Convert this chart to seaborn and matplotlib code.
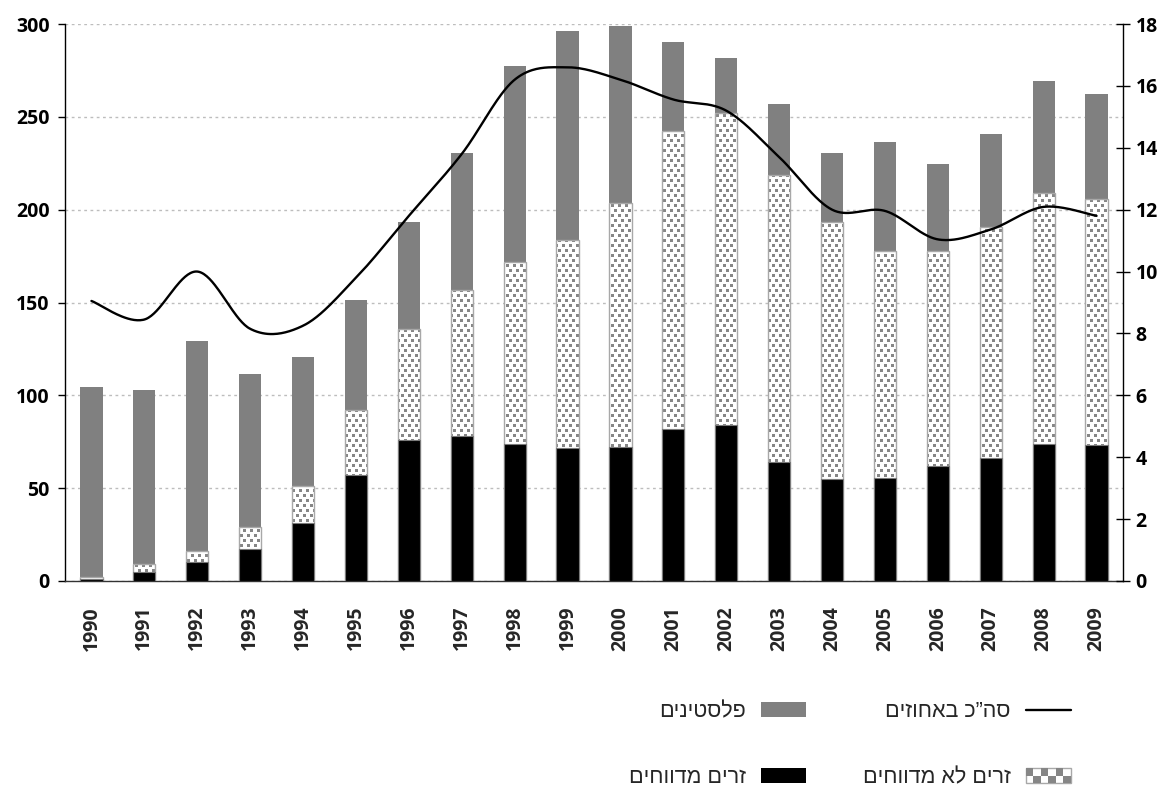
import numpy as np
import pandas as pd
import matplotlib
matplotlib.use("Agg")
import matplotlib.pyplot as plt
from matplotlib.patches import Patch, PathPatch, Rectangle
from matplotlib.lines import Line2D
from matplotlib.path import Path
from matplotlib.legend_handler import HandlerBase
import seaborn as sns

# Workers by year (thousands) and total share (percent, right axis)
years = [str(y) for y in range(1990, 2010)]
reported = [1, 5, 10, 17.5, 31, 57, 76, 78, 74, 71.5,
            72, 82, 84, 64, 55, 55.5, 62, 66, 74, 73.5]
unreported = [1, 4, 6, 11.5, 20, 35, 59.5, 78.5, 98, 112,
              131.5, 160.5, 168, 154.5, 138.5, 122, 116, 124.5, 135, 132.5]
palestinians = [102.5, 94, 113, 82.5, 69.5, 59.5, 58, 74, 105.5, 112.5,
                95.5, 48, 29.5, 38.5, 37, 59, 46.5, 50.5, 60.5, 56.5]
total_pct = [9.05, 8.45, 10.0, 8.15, 8.25, 9.8, 11.8, 13.8, 16.2, 16.6,
             16.2, 15.56, 15.2, 13.7, 12.0, 11.96, 11.04, 11.36, 12.09, 11.8]

lbl_pal = "פלסטינים"
lbl_rep = "זרים מדווחים"
lbl_unrep = "זרים לא מדווחים"
lbl_total = "סה”כ באחוזים"


def rtl(s):
    # matplotlib lays text out left to right; show Hebrew in visual order
    return s[::-1]


sns.set_style("white")
plt.rcParams["font.family"] = ["Open Sans", "DejaVu Sans"]

GRAY = "#808080"
SQ = "#868686"        # dotted texture squares
DOT_EDGE = "#a8a8a8"  # outline of the dotted segments

df = pd.DataFrame({"year": years, "reported": reported,
                   "unreported": unreported, "palestinians": palestinians})
df["top_unrep"] = df["reported"] + df["unreported"]
df["top_all"] = df["top_unrep"] + df["palestinians"]

fig = plt.figure(figsize=(11.68, 7.86), dpi=100)
ax = fig.add_axes([65 / 1168, 1 - 581 / 786, (1123 - 65) / 1168, (581 - 24) / 786])

W = 0.42
sns.barplot(data=df, x="year", y="top_all", color=GRAY, width=W,
            saturation=1, errorbar=None, linewidth=0, ax=ax, zorder=2)
n0 = len(ax.patches)
sns.barplot(data=df, x="year", y="top_unrep", color="white", width=W,
            saturation=1, errorbar=None, edgecolor=DOT_EDGE,
            linewidth=1, ax=ax, zorder=3)
dotted_bars = ax.patches[n0:]
sns.barplot(data=df, x="year", y="reported", color="black", width=W,
            saturation=1, errorbar=None, edgecolor="#7a7a7a",
            linewidth=0.8, ax=ax, zorder=4)

ax.set_xlim(-0.5, len(years) - 0.5)
ax.set_ylim(0, 300)

# Square-dot texture for the unreported segments, clipped to those bars
bb = ax.get_window_extent()
hpx, wpx = int(round(bb.height)), int(round(bb.width))
yy, xx = np.mgrid[0:hpx, 0:wpx]
shift = ((yy // 5) % 2) * 4
mask = (((xx + shift) % 7) < 3) & ((yy % 5) < 3)
tex = np.ones((hpx, wpx, 3))
tex[mask] = np.array(matplotlib.colors.to_rgb(SQ))
clip_path = Path.make_compound_path(
    *[p.get_path().transformed(p.get_patch_transform()) for p in dotted_bars])
clip_patch = PathPatch(clip_path, transform=ax.transData,
                       facecolor="none", edgecolor="none")
im = ax.imshow(tex, extent=(-0.5, len(years) - 0.5, 0, 300), origin="upper",
               aspect="auto", interpolation="nearest", zorder=3.2)
im.set_clip_path(clip_patch)
for p in dotted_bars:
    p.set_facecolor("none")
    p.set_zorder(3.4)
ax.set_xlim(-0.5, len(years) - 0.5)
ax.set_ylim(0, 300)

ax.set_yticks(np.arange(0, 301, 50))
ax.set_xlabel("")
ax.set_ylabel("")
ax.yaxis.grid(True, linestyle=(0, (2, 2.5)), color="#bdbdbd", linewidth=1)
ax.xaxis.grid(False)
ax.set_axisbelow(True)
for s in ["top", "right"]:
    ax.spines[s].set_visible(False)
ax.spines["left"].set_color("black")
ax.spines["left"].set_linewidth(1)
ax.spines["bottom"].set_color("#333333")
ax.spines["bottom"].set_linewidth(1)

tick_font = dict(family=["Open Sans", "DejaVu Sans"], weight="bold", size=14)
ax.tick_params(axis="y", direction="out", length=5, width=1, pad=6,
               left=True, colors="black")
ax.tick_params(axis="x", length=0, pad=18)
ax.set_xticks(range(len(years)))
ax.set_xticklabels(years, rotation=90, **tick_font)
for t in ax.get_yticklabels():
    t.set(**tick_font)

# Right axis: total share in percent, drawn as a smoothed line
ax2 = ax.twinx()
ax2.set_ylim(0, 18)
ax2.set_yticks(np.arange(0, 19, 2))
ax2.set_yticklabels([str(v) for v in range(0, 19, 2)], **tick_font)
ax2.tick_params(axis="y", direction="inout", length=10, width=1, pad=4,
                colors="black")
for s in ["top", "left", "bottom"]:
    ax2.spines[s].set_visible(False)
ax2.spines["right"].set_color("black")
ax2.spines["right"].set_linewidth(1)
ax2.grid(False)


def smooth(xs, ys, n=40):
    xs = np.asarray(xs, float)
    ys = np.asarray(ys, float)
    px = np.concatenate([[xs[0]], xs, [xs[-1]]])
    py = np.concatenate([[ys[0]], ys, [ys[-1]]])
    t = np.linspace(0, 1, n)[:, None]
    pts = []
    for i in range(1, len(xs)):
        p0 = np.array([px[i - 1], py[i - 1]])
        p1 = np.array([px[i], py[i]])
        p2 = np.array([px[i + 1], py[i + 1]])
        p3 = np.array([px[i + 2], py[i + 2]])
        c1 = p1 + (p2 - p0) / 6
        c2 = p2 - (p3 - p1) / 6
        seg = ((1 - t) ** 3) * p1 + 3 * ((1 - t) ** 2) * t * c1 \
            + 3 * (1 - t) * t ** 2 * c2 + t ** 3 * p2
        pts.append(seg if i == 1 else seg[1:])
    pts = np.vstack(pts)
    return pts[:, 0], pts[:, 1]


sx, sy = smooth(np.arange(len(years)), total_pct)
sns.lineplot(x=sx, y=sy, sort=False, estimator=None, color="black",
             linewidth=1.7, ax=ax2)
ax2.set_xlim(-0.5, len(years) - 0.5)
ax2.set_ylabel("")


class CheckerHandler(HandlerBase):
    """Legend key drawn as a small checker of gray squares."""

    def create_artists(self, legend, orig_handle, xdescent, ydescent,
                       width, height, fontsize, trans):
        x0, y0 = -xdescent, -ydescent
        arts = [Rectangle((x0, y0), width, height, facecolor="white",
                          edgecolor=DOT_EDGE, linewidth=1, transform=trans)]
        ncol = 6
        cw, ch = width / ncol, height / 2
        for r in range(2):
            for c in range(ncol):
                if (r + c) % 2 == 1:
                    arts.append(Rectangle((x0 + c * cw, y0 + r * ch), cw, ch,
                                          facecolor=SQ, edgecolor="none",
                                          transform=trans))
        return arts


# Legend (right-to-left: symbol to the right of the label)
tex_handle = Patch(facecolor="white", edgecolor=DOT_EDGE)
handles = [
    Patch(facecolor=GRAY, edgecolor="none"),
    Patch(facecolor="black", edgecolor="none"),
    Line2D([0], [0], color="black", linewidth=1.7),
    tex_handle,
]
labels = [rtl(lbl_pal), rtl(lbl_rep), rtl(lbl_total), rtl(lbl_unrep)]
fig.legend(handles, labels, ncol=2, markerfirst=False, frameon=False,
           loc="upper right", bbox_to_anchor=(1071 / 1168, 1 - 701 / 786),
           prop=dict(family=["Liberation Sans", "DejaVu Sans"], size=15.5),
           handlelength=2.1, handleheight=0.65, handletextpad=0.7,
           columnspacing=2.65, labelspacing=2.1, borderpad=0, borderaxespad=0,
           handler_map={tex_handle: CheckerHandler()})

fig.savefig("out.png", dpi=100)
